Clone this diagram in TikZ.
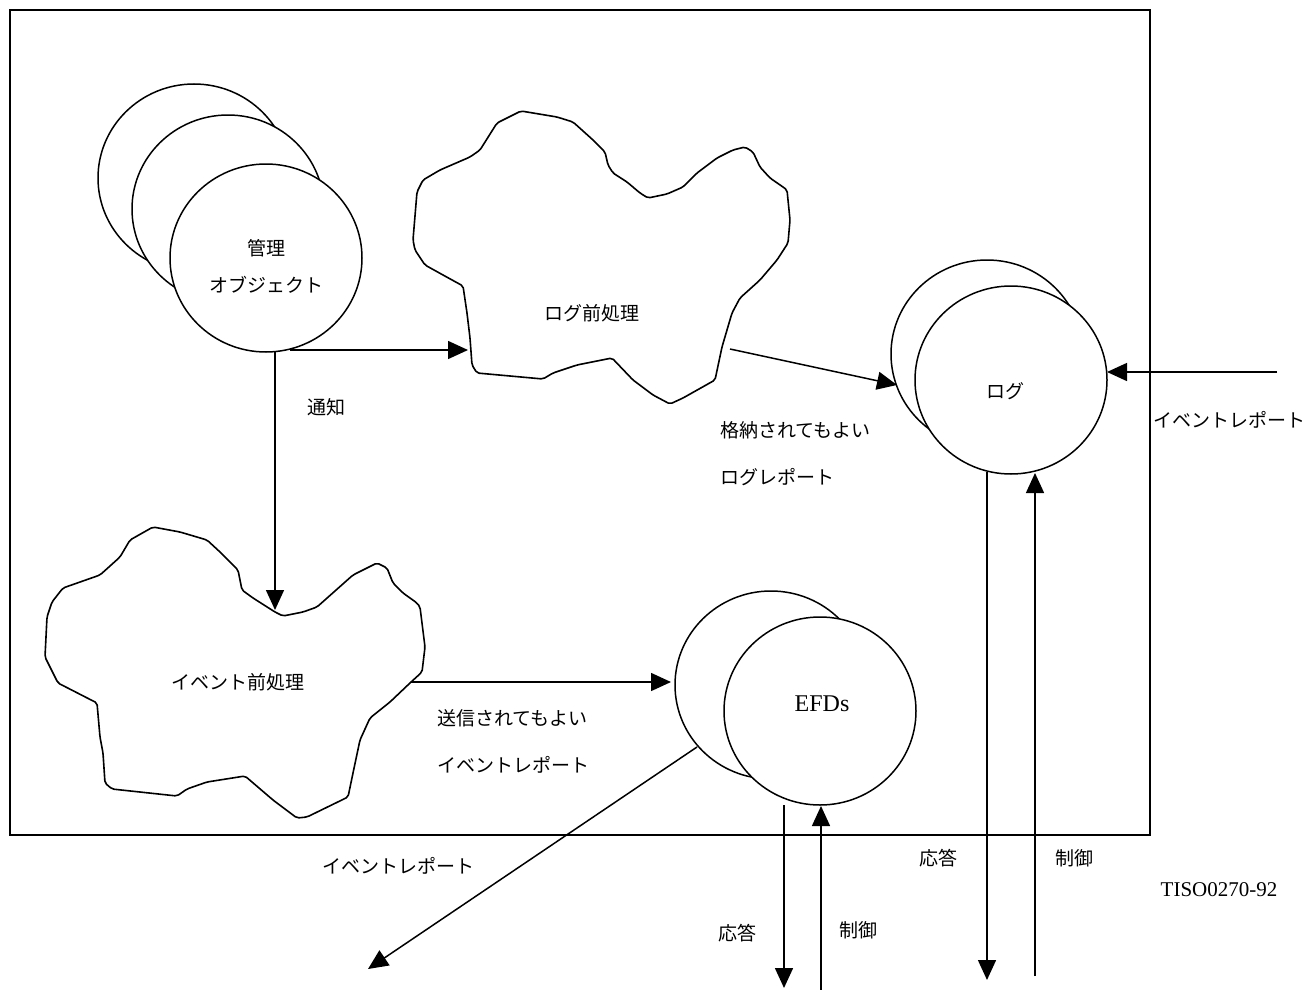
\documentclass[tikz,border=0pt]{standalone}
\usepackage{fontspec}
\setmainfont{Liberation Serif}
\newfontfamily\jp{Noto Sans CJK JP}
\usetikzlibrary{arrows.meta,shapes.geometric}
\begin{document}
\begin{tikzpicture}[x=1pt,y=-1pt,
  ln/.style={line width=1.5pt},
  arr/.style={ln,-{Triangle[length=20pt,width=18pt]}},
  obj/.style={ellipse,draw,line width=1.5pt,fill=white,minimum width=192pt,minimum height=188pt,inner sep=0pt},
  cloudpath/.style={line width=1.6pt,rounded corners=2pt,fill=white},
  lbl/.style={font=\jp\fontsize{19}{23}\selectfont,inner sep=0pt},
  serif/.style={font=\fontsize{21}{25}\selectfont,inner sep=0pt},
]
\useasboundingbox (0,0) rectangle (1309,990);

% frame
\draw[ln] (10,10) rectangle (1150,835);

% management object circles
\node[obj] (m3) at (194,178) {};
\node[obj] (m2) at (228,209) {};
\node[obj] (m1) at (266,258) {};
\node[lbl,align=center,font=\jp\fontsize{19}{37}\selectfont] (mtext) at (266,266.5) {管理\\オブジェクト};

% log preprocessing cloud
\draw[cloudpath] (521,111) -- (557,117) -- (573,122) -- (593,140) -- (605,152) -- (608,165) -- (613,173) -- (627,182) -- (640,193) -- (648,198) -- (667,194) -- (683,187) -- (697,173) -- (717,158) -- (733,150) -- (745,147) -- (753,152) -- (760,167) -- (770,178) -- (783,187) -- (787,190) -- (790,220) -- (788,243) -- (777,260) -- (760,280) -- (740,298) -- (732,313) -- (722,347) -- (715,380) -- (683,398) -- (670,404) -- (653,395) -- (633,380) -- (612,358) -- (577,365) -- (553,373) -- (543,379) -- (477,373) -- (472,365) -- (470,338) -- (467,313) -- (463,286) -- (443,275) -- (425,265) -- (415,250) -- (413,240) -- (417,192) -- (423,180) -- (440,170) -- (470,157) -- (480,150) -- (497,123) -- cycle;
\node[lbl] (logpre) at (592,313) {ログ前処理};

% event preprocessing cloud
\draw[cloudpath] (153,527) -- (180,532) -- (207,540) -- (220,552) -- (238,570) -- (242,590) -- (253,598) -- (275,612) -- (283,616) -- (303,612) -- (317,607) -- (353,575) -- (377,563) -- (387,568) -- (393,583) -- (403,593) -- (417,603) -- (420,607) -- (425,647) -- (422,672) -- (410,683) -- (390,702) -- (370,718) -- (360,740) -- (353,773) -- (348,797) -- (307,817) -- (297,818) -- (273,800) -- (245,776) -- (207,782) -- (187,789) -- (177,796) -- (112,789) -- (105,783) -- (103,753) -- (100,737) -- (97,703) -- (58,683) -- (45,657) -- (47,617) -- (52,602) -- (63,588) -- (100,575) -- (120,557) -- (130,540) -- cycle;
\node[lbl] (evpre) at (238,682) {イベント前処理};

% log circles
\node[obj] (l2) at (987,354) {};
\node[obj] (l1) at (1011,380) {};
\node[lbl] (logtext) at (1005,391) {ログ};

% EFDs circles
\node[obj] (e2) at (771,685) {};
\node[obj] (e1) at (820,711) {};
\node[inner sep=0pt,font=\fontsize{24}{28}\selectfont] (efdtext) at (822,704) {EFDs};

% connector end points
\coordinate (mA) at (290,350);
\coordinate (lpIn) at (468,350);
\coordinate (mB) at (275,352);
\coordinate (epIn) at (275,610);
\coordinate (lpOut) at (730,349);
\coordinate (lIn) at (897,385);
\coordinate (epOut) at (411,682);
\coordinate (eIn) at (671,682);
\coordinate (extR) at (1277,372);
\coordinate (lInR) at (1107,372);
\coordinate (eOut) at (697,747);
\coordinate (extBL) at (368,969);
\coordinate (eRespS) at (784,805);
\coordinate (eRespE) at (784,988);
\coordinate (eCtrlS) at (821,990);
\coordinate (eCtrlE) at (821,806);
\coordinate (lRespS) at (987,472);
\coordinate (lRespE) at (987,980);
\coordinate (lCtrlS) at (1035,976);
\coordinate (lCtrlE) at (1035,473);

% connectors
\draw[arr] (mA) -- (lpIn);
\draw[arr] (mB) -- (epIn);
\draw[arr] (lpOut) -- (lIn);
\draw[arr] (epOut) -- (eIn);
\draw[arr] (extR) -- (lInR);
\draw[arr] (eOut) -- (extBL);
\draw[arr] (eRespS) -- (eRespE);
\draw[arr] (eCtrlS) -- (eCtrlE);
\draw[arr] (lRespS) -- (lRespE);
\draw[arr] (lCtrlS) -- (lCtrlE);

% labels
\node[lbl] (t1) at (326,407) {通知};
\node[lbl,anchor=west] (t2) at (720,430) {格納されてもよい};
\node[lbl,anchor=west] (t3) at (720,477) {ログレポート};
\node[lbl,anchor=west] (t4) at (437,718) {送信されてもよい};
\node[lbl,anchor=west] (t5) at (437,765) {イベントレポート};
\node[lbl,anchor=west] (t6) at (1153,420) {イベントレポート};
\node[lbl] (t7) at (398,866) {イベントレポート};
\node[lbl] (t8) at (737,933) {応答};
\node[lbl] (t9) at (858,930) {制御};
\node[lbl] (t10) at (938,858) {応答};
\node[lbl] (t11) at (1074,858) {制御};
\node[serif] (t12) at (1219,890) {TISO0270-92};
\end{tikzpicture}
\end{document}
